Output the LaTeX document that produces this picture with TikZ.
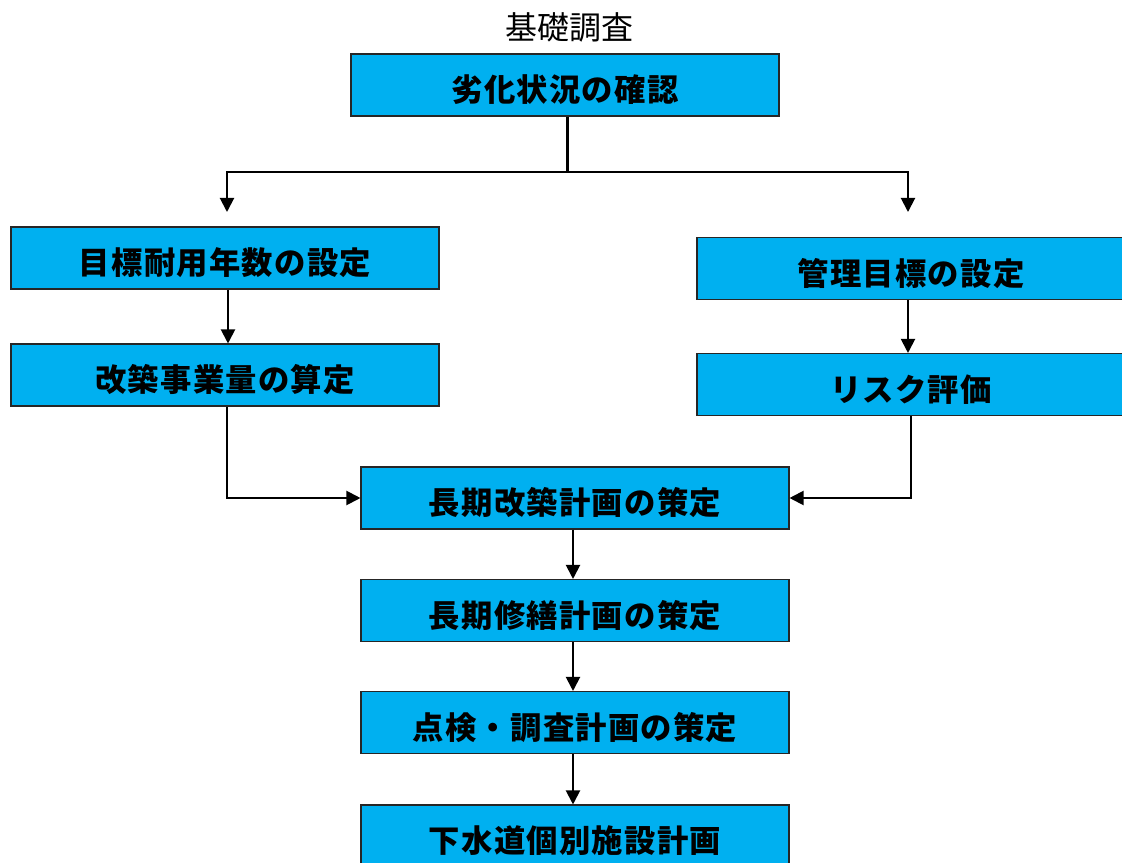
\documentclass[tikz,border=0pt]{standalone}
\usepackage{fontspec}
\newfontfamily\jp{Noto Sans CJK JP}
\newfontfamily\jpbox{Noto Sans CJK JP}[LetterSpace=4]
\usetikzlibrary{arrows.meta}
\definecolor{boxblue}{HTML}{00B0F0}
\newcommand{\lbl}[1]{\raisebox{-3.75pt}[\height][\depth]{#1}}
\tikzset{
  stepbox/.style={draw=black!85, line width=0.8pt, fill=boxblue, minimum width=321pt, minimum height=46.5pt, inner sep=0pt, font=\jpbox\bfseries\fontsize{23.5}{26}\selectfont},
  conn/.style={line width=1.5pt},
  arr/.style={conn, -{Triangle[length=10.5pt,width=10.5pt]}}
}
\begin{document}
\begin{tikzpicture}[x=0.75pt,y=-0.75pt]
\clip (0,0) rectangle (1122,863);
\fill[white] (0,0) rectangle (1122,863);
\node[font=\jp\fontsize{24}{28}\selectfont] (title) at (569,27) {基礎調査};
\node[stepbox] (top) at (565,85) {\lbl{劣化状況の確認}};
\node[stepbox] (l1) at (225,258) {\lbl{目標耐用年数の設定}};
\node[stepbox] (l2) at (225,375) {\lbl{改築事業量の算定}};
\node[stepbox] (r1) at (911,268.5) {\lbl{管理目標の設定}};
\node[stepbox] (r2) at (911,384.5) {\lbl{リスク評価}};
\node[stepbox] (m1) at (575,498) {\lbl{長期改築計画の策定}};
\node[stepbox] (m2) at (575,610.5) {\lbl{長期修繕計画の策定}};
\node[stepbox] (m3) at (575,722.5) {\lbl{点検・調査計画の策定}};
\node[stepbox] (m4) at (575,836) {\lbl{下水道個別施設計画}};
\coordinate (j) at (567,172);
\coordinate (jl) at (227,212);
\coordinate (jr) at (908,212);
\draw[line width=2.25pt] (j |- top.south) -- (j);
\draw[arr] (j) -| (jl);
\draw[arr] (j) -| (jr);
\draw[arr] (l1.south -| 228,0) -- (l2.north -| 228,0);
\draw[arr] (r1.south -| 908,0) -- (r2.north -| 908,0);
\draw[arr] (l2.south -| 227,0) |- (m1.west);
\draw[arr] (r2.south) |- (m1.east);
\draw[arr] (m1.south -| 573,0) -- (m2.north -| 573,0);
\draw[arr] (m2.south -| 573,0) -- (m3.north -| 573,0);
\draw[arr] (m3.south -| 573,0) -- (m4.north -| 573,0);
\end{tikzpicture}
\end{document}
